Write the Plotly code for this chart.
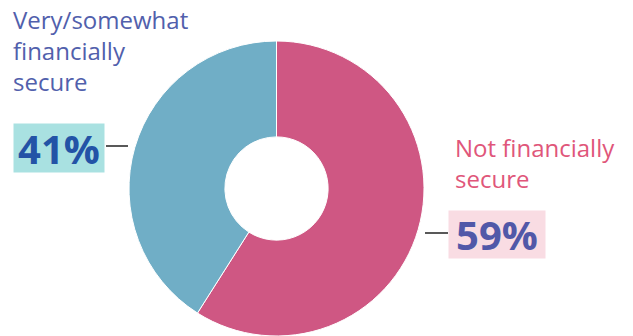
import plotly.graph_objects as go

W, H = 633, 336

# Survey split
labels = ["Not financially secure", "Very/somewhat financially secure"]
values = [59, 41]
pct_text = ["59%", "41%"]
colors = ["#CF5783", "#70AEC6"]


def px(x):
    return x / W


def py(y):
    return 1 - y / H


fig = go.Figure(
    go.Pie(
        labels=labels,
        values=values,
        hole=0.35,
        sort=False,
        direction="clockwise",
        rotation=0,
        marker=dict(colors=colors, line=dict(color="white", width=1)),
        textinfo="none",
        hoverinfo="label+percent",
        showlegend=False,
        domain=dict(x=[px(129), px(424)], y=[py(336), py(41)]),
    )
)

label_font = "'Open Sans', sans-serif"
pct_font = "'Open Sans', sans-serif"

annotations = [
    # left category label
    dict(x=px(11), y=py(1), xanchor="left", yanchor="top", showarrow=False,
         text="Very/somewhat<br>financially<br>secure",
         font=dict(family=label_font, size=24, color="#5160AC"), align="left"),
    # right category label
    dict(x=px(453), y=py(129), xanchor="left", yanchor="top", showarrow=False,
         text="Not financially<br>secure",
         font=dict(family=label_font, size=24, color="#E0567A"), align="left"),
    # percentage boxes
    dict(x=px(59), y=py(148), xanchor="center", yanchor="middle", showarrow=False,
         text="<b>" + pct_text[1] + "</b>",
         font=dict(family=pct_font, size=40, color="#2353A6"),
         bgcolor="#A9E1E1", width=90, height=48, borderpad=0),
    dict(x=px(497), y=py(234), xanchor="center", yanchor="middle", showarrow=False,
         text="<b>" + pct_text[0] + "</b>",
         font=dict(family=pct_font, size=40, color="#5158A8"),
         bgcolor="#F9DCE3", width=96, height=47, borderpad=0),
]

shapes = [
    dict(type="line", xref="paper", yref="paper",
         x0=px(106), x1=px(128), y0=py(146), y1=py(146),
         line=dict(color="#222222", width=1.5)),
    dict(type="line", xref="paper", yref="paper",
         x0=px(425), x1=px(448), y0=py(233), y1=py(233),
         line=dict(color="#222222", width=1.5)),
]

fig.update_layout(
    width=W, height=H,
    margin=dict(l=0, r=0, t=0, b=0),
    paper_bgcolor="white",
    plot_bgcolor="white",
    annotations=annotations,
    shapes=shapes,
)

fig.write_html("out.html")
